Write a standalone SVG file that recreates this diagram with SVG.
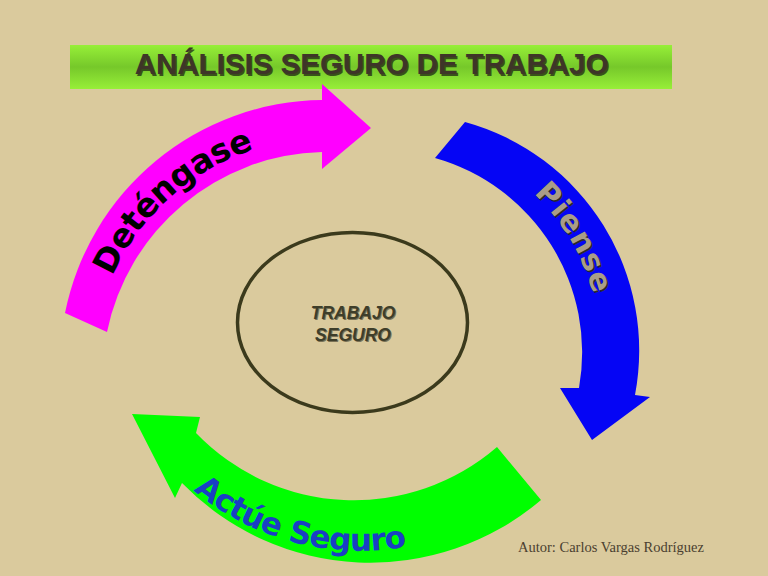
<svg xmlns="http://www.w3.org/2000/svg" width="768" height="576" viewBox="0 0 768 576">
  <defs>
    <linearGradient id="barGrad" x1="0" y1="0" x2="0" y2="1">
      <stop offset="0" stop-color="#97EF38"/>
      <stop offset="0.5" stop-color="#76C82A"/>
      <stop offset="1" stop-color="#97EF38"/>
    </linearGradient>
    <path id="pDet" d="M 92.9 351.6 A 234 234 0 0 1 346.4 138.9"/>
    <path id="pPie" d="M 436.9 139.5 A 218 218 0 0 1 592.5 408.9"/>
    <path id="pAct" d="M 134.8 420 A 259 259 0 0 0 559.2 457.1"/>
    <style>
      .title { font-family: "Liberation Sans", Arial, sans-serif; font-weight: bold; font-size: 29.5px; text-anchor: middle; }
      .comic { font-family: "DejaVu Sans", "Liberation Sans", sans-serif; font-weight: bold; }
      .center { font-family: "Liberation Sans", Arial, sans-serif; font-weight: bold; font-style: italic; font-size: 17.5px; text-anchor: middle; }
    </style>
  </defs>

  <rect x="0" y="0" width="768" height="576" fill="#DACA9D"/>

  <g id="title">
    <rect x="70" y="45" width="602" height="44" fill="url(#barGrad)"/>
    <text class="title" x="373" y="75.5" fill="#1a1a12" opacity="0.7">ANÁLISIS SEGURO DE TRABAJO</text>
    <text class="title" x="371.5" y="74" fill="#3E3528">ANÁLISIS SEGURO DE TRABAJO</text>
  </g>

  <g id="arrows">
    <g id="detengase">
      <path d="M 65 313 A 265 265 0 0 1 322 100 L 322 84 L 371 128 L 322 169 L 322 152 A 225 225 0 0 0 107 332 Z" fill="#FF00FF"/>
      <text class="comic" font-size="33" fill="#000000"><textPath href="#pDet" startOffset="176" text-anchor="middle" textLength="196" lengthAdjust="spacing">Deténgase</textPath></text>
    </g>
    <g id="piense">
      <path d="M 465 122 A 237 237 0 0 1 635 395 L 650 397 L 592 440 L 560 388 L 579 388 A 202 202 0 0 0 435 158 Z" fill="#0505F5"/>
      <text class="comic" font-size="30" fill="#2a2a2a" transform="translate(1.5,1.5)"><textPath href="#pPie" startOffset="171" text-anchor="middle" textLength="118" lengthAdjust="spacing">Piense</textPath></text>
      <text class="comic" font-size="30" fill="#A99D88"><textPath href="#pPie" startOffset="171" text-anchor="middle" textLength="118" lengthAdjust="spacing">Piense</textPath></text>
    </g>
    <g id="actue-seguro">
      <path d="M 132 414 L 200 417 L 196 433 A 219 219 0 0 0 497 447 L 541 500 A 263 263 0 0 1 182 483 L 175 498 Z" fill="#00FF00"/>
      <text class="comic" font-size="31" fill="#1A3FC4"><textPath href="#pAct" startOffset="206" text-anchor="middle" textLength="228" lengthAdjust="spacing">Actúe Seguro</textPath></text>
    </g>
  </g>

  <g id="trabajo-seguro">
    <ellipse cx="352.5" cy="322.5" rx="115" ry="90" fill="none" stroke="#3B3A1C" stroke-width="3.5"/>
    <text class="center" x="354" y="320" fill="#1a1a10" opacity="0.5">TRABAJO</text>
    <text class="center" x="353" y="319" fill="#3E3E2A">TRABAJO</text>
    <text class="center" x="354" y="342" fill="#1a1a10" opacity="0.5">SEGURO</text>
    <text class="center" x="353" y="341" fill="#3E3E2A">SEGURO</text>
  </g>

  <g id="author">
    <text x="518" y="551.5" font-family="'Liberation Serif', 'Times New Roman', serif" font-size="14.5" fill="#4A3F30">Autor: Carlos Vargas Rodríguez</text>
  </g>
</svg>
